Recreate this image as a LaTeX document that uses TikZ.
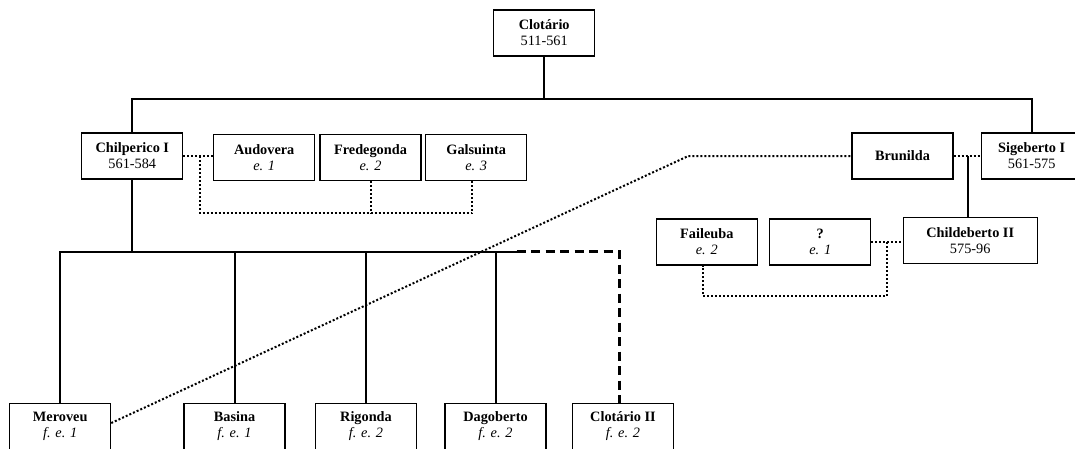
\documentclass[tikz,border=0pt]{standalone}
\usepackage{fontspec}
\setmainfont{Liberation Serif}
\begin{document}
\begin{tikzpicture}[x=1pt,y=-1pt,
  box/.style={draw, line width=1.1pt, fill=white, minimum width=101pt, minimum height=46pt,
    inner sep=0pt, align=center, font=\fontsize{14.3}{16}\selectfont},
  kin/.style={line width=2pt},
  dotline/.style={line width=2pt, dash pattern=on 2pt off 2pt},
  dashline/.style={line width=2.6pt, dash pattern=on 9pt off 5.5pt}]
\useasboundingbox (0,0) rectangle (1075,448);
% nodes
\node[box] (clot) at (544.2,33) {\textbf{Clotário}\\511-561};
\node[box] (chil) at (132.3,156) {\textbf{Chilperico I}\\561-584};
\node[box] (audo) at (264.2,157.2) {\textbf{Audovera}\\\textit{e. 1}};
\node[box] (fred) at (370.5,157.2) {\textbf{Fredegonda}\\\textit{e. 2}};
\node[box] (gals) at (476.2,157.2) {\textbf{Galsuinta}\\\textit{e. 3}};
\node[box] (brun) at (902.5,156) {\textbf{Brunilda}};
\node[box] (sige) at (1031.7,156) {\textbf{Sigeberto I}\\561-575};
\node[box] (fail) at (706.8,242) {\textbf{Faileuba}\\\textit{e. 2}};
\node[box] (ques) at (820.3,242) {\textbf{?}\\\textit{e. 1}};
\node[box, minimum width=134.3pt] (chld) at (970.2,240.7) {\textbf{Childeberto II}\\575-96};
\node[box] (mero) at (60.2,426.5) {\textbf{Meroveu}\\\textit{f. e. 1}};
\node[box] (basi) at (234.5,426.5) {\textbf{Basina}\\\textit{f. e. 1}};
\node[box] (rigo) at (366,426.5) {\textbf{Rigonda}\\\textit{f. e. 2}};
\node[box] (dago) at (495.5,426.5) {\textbf{Dagoberto}\\\textit{f. e. 2}};
\node[box] (clo2) at (623,426.5) {\textbf{Clotário II}\\\textit{f. e. 2}};
% helper coordinates
\coordinate (bar1) at (0,99.3);
\coordinate (bar2) at (0,251.7);
\coordinate (dashstart) at (516.7,251.7);
\coordinate (w1) at (200,156);
\coordinate (w1b) at (200,213.3);
\coordinate (cb) at (967.7,156);
\coordinate (fq) at (886.7,296);
\coordinate (fb) at (702.7,296);
\coordinate (bend) at (688.3,156);
% solid kinship lines
\draw[kin] (clot.south) -- (clot.south |- bar1);
\draw[kin] (chil.north) -- (chil.north |- bar1) -- (sige.north |- bar1) -- (sige.north);
\draw[kin] (chil.south) -- (chil.south |- bar2);
\draw[kin] (mero.north) -- (mero.north |- bar2) -- (dashstart);
\draw[kin] (basi.north) -- (basi.north |- bar2);
\draw[kin] (rigo.north) -- (rigo.north |- bar2);
\draw[kin] (dago.north) -- (dago.north |- bar2);
\draw[dashline] (dashstart) -- ([xshift=-3.3pt]clo2.north |- bar2) -- ([xshift=-3.3pt]clo2.north);
\draw[kin] (cb) -- (cb |- chld.north);
% marriages (dotted)
\draw[dotline] (chil.east) -- (chil.east -| audo.west);
\draw[dotline] (w1) -- (w1b) -- ([xshift=-3.9pt]gals.south |- w1b) -- ([xshift=-3.9pt]gals.south);
\draw[dotline] (fred.south) -- (fred.south |- w1b);
\draw[dotline] (brun.east) -- (sige.west);
\draw[dotline] (ques.east) -- (ques.east -| chld.west);
\draw[dotline] (fq |- ques.east) -- (fq) -- (fb) -- (fb |- fail.south);
\draw[dotline] ([yshift=3.5pt]mero.east) -- (bend) -- (brun.west);
\end{tikzpicture}
\end{document}
